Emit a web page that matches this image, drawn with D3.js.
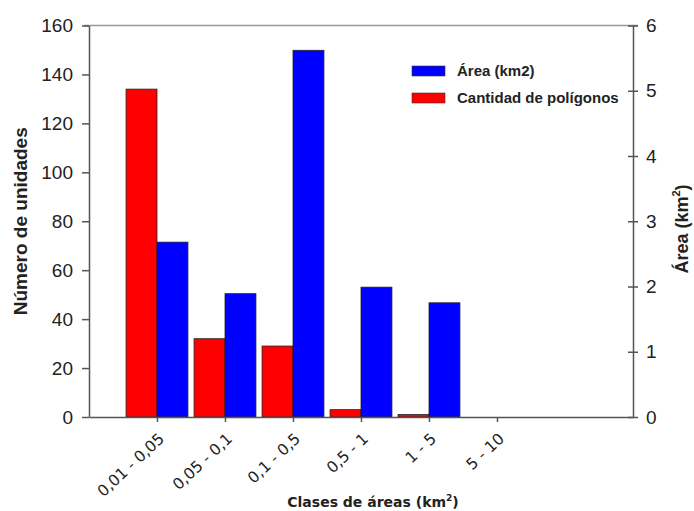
<!DOCTYPE html>
<html lang="es">
<head>
  <meta charset="UTF-8">
  <title>Clases de áreas</title>
  <style>
    body { margin: 0; background: #fff; }
    svg { display: block; }
  </style>
</head>
<body>
  <div id="chart"></div>
  <script src="https://d3js.org/d3.v7.min.js"></script>
  <script>
    // data
    const categories = ['0,01 - 0,05', '0,05 - 0,1', '0,1 - 0,5', '0,5 - 1', '1 - 5', '5 - 10'];
    const poligonos = [134, 32, 29, 3, 1, 0];          // left axis
    const areaKm2 = [2.68, 1.89, 5.62, 1.99, 1.75, 0];   // right axis
    const leftTicks = [0, 20, 40, 60, 80, 100, 120, 140, 160];
    const rightTicks = [0, 1, 2, 3, 4, 5, 6];

    (function() {
      const W = 694, H = 511;
      const mLeft = 89, mRight = 633, mTop = 25.5, mBottom = 417;
      const axisColor = '#555';
      const arial = "'Liberation Sans', Arial, sans-serif";
      const verdana = "'DejaVu Sans', Verdana, sans-serif";

      const svg = d3.select('#chart').append('svg')
        .attr('width', W).attr('height', H);

      const x = d3.scaleLinear().domain([0, categories.length + 2]).range([mLeft, mRight]);
      const yL = d3.scaleLinear().domain([0, 160]).range([mBottom, mTop]);
      const yR = d3.scaleLinear().domain([0, 6]).range([mBottom, mTop]);
      const bw = x(0.455) - x(0);

      // top frame line
      svg.append('line')
        .attr('x1', mLeft - 5).attr('x2', mRight + 5)
        .attr('y1', mTop).attr('y2', mTop)
        .attr('stroke', '#999').attr('stroke-width', 1.5);

      // bars
      const g = svg.append('g');
      g.selectAll('rect.red').data(poligonos).enter().append('rect')
        .attr('class', 'red')
        .attr('x', (d, i) => x(i + 1) - bw)
        .attr('width', bw)
        .attr('y', d => yL(d))
        .attr('height', d => mBottom - yL(d))
        .attr('fill', '#ff0000')
        .attr('stroke', d => d > 0 ? '#222' : 'none')
        .attr('stroke-width', 0.8);

      g.selectAll('rect.blue').data(areaKm2).enter().append('rect')
        .attr('class', 'blue')
        .attr('x', (d, i) => x(i + 1))
        .attr('width', bw)
        .attr('y', d => yR(d))
        .attr('height', d => mBottom - yR(d))
        .attr('fill', '#0000ff')
        .attr('stroke', d => d > 0 ? '#222' : 'none')
        .attr('stroke-width', 0.8);

      // left axis
      const axL = svg.append('g')
        .attr('transform', `translate(${mLeft},0)`)
        .call(d3.axisLeft(yL).tickValues(leftTicks).tickSize(7).tickPadding(9).tickSizeOuter(0));
      axL.selectAll('text')
        .style('font-family', arial).style('font-size', '19px').attr('fill', '#222');

      // right axis
      const axR = svg.append('g')
        .attr('transform', `translate(${mRight},0)`)
        .call(d3.axisRight(yR).tickValues(rightTicks).tickFormat(d3.format('d'))
          .tickSize(5).tickPadding(8).tickSizeOuter(0));
      axR.selectAll('.tick line').attr('x1', -5);
      axR.selectAll('text')
        .style('font-family', arial).style('font-size', '19px').attr('fill', '#222');

      // bottom axis, rotated category labels
      const axB = svg.append('g')
        .attr('transform', `translate(0,${mBottom})`)
        .call(d3.axisBottom(x).tickValues(d3.range(1, categories.length + 1))
          .tickFormat(d => categories[d - 1]).tickSize(5).tickSizeOuter(0));
      axB.selectAll('text')
        .style('font-family', verdana).style('font-size', '15.5px')
        .attr('fill', '#222')
        .attr('x', 0).attr('y', 0).attr('dy', '0.35em')
        .attr('text-anchor', 'end')
        .attr('transform', 'translate(4,19) rotate(-43)');

      [axL, axR, axB].forEach(a => {
        a.selectAll('path, line').attr('stroke', axisColor).attr('stroke-width', 1.5);
      });

      // axis titles
      svg.append('text')
        .attr('transform', `translate(27,${(mTop + mBottom) / 2}) rotate(-90)`)
        .attr('text-anchor', 'middle')
        .style('font-family', arial).style('font-size', '19px')
        .attr('font-weight', 'bold').attr('fill', '#222')
        .text('Número de unidades');

      const rt = svg.append('text')
        .attr('transform', `translate(688,229) rotate(-90)`)
        .attr('text-anchor', 'middle')
        .style('font-family', arial).style('font-size', '18px')
        .attr('font-weight', 'bold').attr('fill', '#222');
      rt.append('tspan').text('Área (km');
      rt.append('tspan').style('font-size', '11px').attr('dy', -8).text('2');
      rt.append('tspan').attr('dy', 8).text(')');

      const bt = svg.append('text')
        .attr('x', 373).attr('y', 507)
        .attr('text-anchor', 'middle')
        .style('font-family', verdana).style('font-size', '14px')
        .attr('font-weight', 'bold').attr('fill', '#222');
      bt.append('tspan').text('Clases de áreas (km');
      bt.append('tspan').style('font-size', '9px').attr('dy', -6).text('2');
      bt.append('tspan').attr('dy', 6).text(')');

      // legend
      const legend = [
        { label: 'Área (km2)', color: '#0000ff' },
        { label: 'Cantidad de polígonos', color: '#ff0000' }
      ];
      const lg = svg.append('g').attr('transform', 'translate(412,66)');
      legend.forEach((d, i) => {
        lg.append('rect')
          .attr('x', 0).attr('y', i * 27).attr('width', 33).attr('height', 10)
          .attr('fill', d.color).attr('stroke', '#333').attr('stroke-width', 0.6);
        lg.append('text')
          .attr('x', 45).attr('y', i * 27 + 5).attr('dy', '0.35em')
          .style('font-family', arial).style('font-size', '15px')
          .attr('font-weight', 'bold').attr('fill', '#222')
          .text(d.label);
      });
    })();
  </script>
</body>
</html>
